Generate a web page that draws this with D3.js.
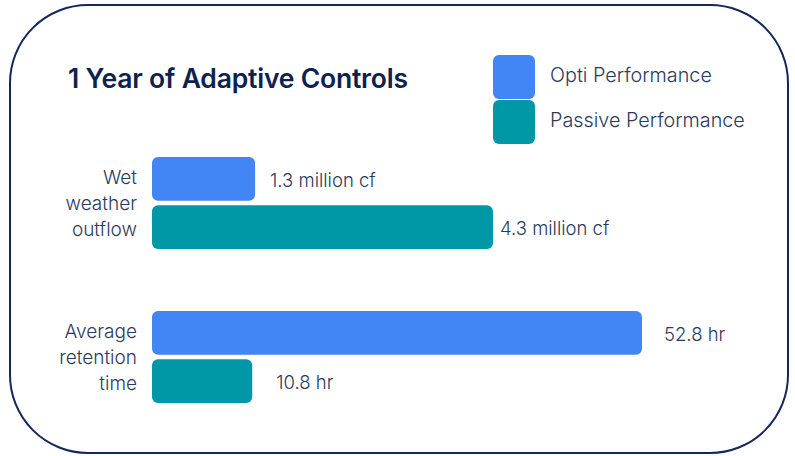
<!DOCTYPE html>
<html>
<head>
<meta charset="utf-8">
<script src="https://cdn.jsdelivr.net/npm/d3@7"></script>
<style>
  body { margin: 0; background: #fff; }
  text { font-family: Inter, "Open Sans", sans-serif; }
</style>
</head>
<body>
<div id="chart"></div>
<script>
// Data
var metrics = [["Wet", "weather", "outflow"], ["Average", "retention", "time"]];
var series = ["Opti Performance", "Passive Performance"];
var optiValues = [1.3, 52.8];
var passiveValues = [4.3, 10.8];
var valueUnits = ["million cf", "hr"];

var width = 795, height = 456;
var colors = d3.scaleOrdinal().domain(series).range(["#4285f4", "#0097a7"]);
var navy = "#13285a", textCol = "#2b3a5c";

var svg = d3.select("#chart").append("svg")
    .attr("width", width)
    .attr("height", height);

// Outer rounded frame
svg.append("rect")
    .attr("x", 10).attr("y", 5)
    .attr("width", 778).attr("height", 448)
    .attr("rx", 78).attr("ry", 78)
    .attr("fill", "#fff")
    .attr("stroke", navy)
    .attr("stroke-width", 2);

// Title
svg.append("text")
    .attr("x", 68).attr("y", 88)
    .attr("fill", "#0d2250")
    .style("font-size", "26.5px")
    .style("font-weight", 600)
    .style("letter-spacing", "-0.2px")
    .text("1 Year of Adaptive Controls");

// Legend
var legend = svg.append("g").attr("transform", "translate(493,55)");
var lg = legend.selectAll("g").data(series).enter().append("g")
    .attr("transform", function(d, i) { return "translate(0," + (i * 45) + ")"; });
lg.append("rect")
    .attr("width", 42).attr("height", 44)
    .attr("rx", 6)
    .attr("fill", function(d) { return colors(d); });
lg.append("text")
    .attr("x", 57).attr("y", 27)
    .attr("fill", textCol)
    .style("font-size", "19.8px")
    .style("font-weight", 300)
    .text(function(d) { return d; });

// Bars: each metric gets its own scale (units differ)
var groupY = d3.scaleBand().domain(d3.range(metrics.length)).range([157, 465]).paddingInner(0);
var barY = d3.scaleBand().domain(series).range([0, 92]).paddingInner(0.09);
var maxWidths = [341, 490];
var labelGap = [[15, 7], [22, 24]];

metrics.forEach(function(m, gi) {
    var vals = [optiValues[gi], passiveValues[gi]];
    var x = d3.scaleLinear().domain([0, d3.max(vals)]).range([0, maxWidths[gi]]);
    var g = svg.append("g").attr("transform", "translate(152," + groupY(gi) + ")");

    var rows = g.selectAll(".bar").data(series.map(function(s, i) { return { s: s, v: vals[i], i: i }; }))
        .enter().append("g");
    rows.append("rect")
        .attr("x", 0)
        .attr("y", function(d) { return barY(d.s); })
        .attr("width", function(d) { return x(d.v); })
        .attr("height", barY.bandwidth())
        .attr("rx", 6)
        .attr("fill", function(d) { return colors(d.s); });
    rows.append("text")
        .attr("x", function(d) { return x(d.v) + labelGap[gi][d.i]; })
        .attr("y", function(d) { return barY(d.s) + barY.bandwidth() / 2; })
        .attr("dy", "0.45em")
        .attr("fill", textCol)
        .style("font-size", "18.5px")
        .style("font-weight", 300)
        .text(function(d) { return d.v + " " + valueUnits[gi]; });

    // category label, three lines right-aligned
    var lbl = g.append("text")
        .attr("text-anchor", "end")
        .attr("fill", textCol)
        .style("font-size", "19px")
        .style("font-weight", 300);
    lbl.selectAll("tspan").data(m).enter().append("tspan")
        .attr("x", -15)
        .attr("y", function(d, i) { return 27 + i * 26; })
        .text(function(d) { return d; });
});
</script>
</body>
</html>
